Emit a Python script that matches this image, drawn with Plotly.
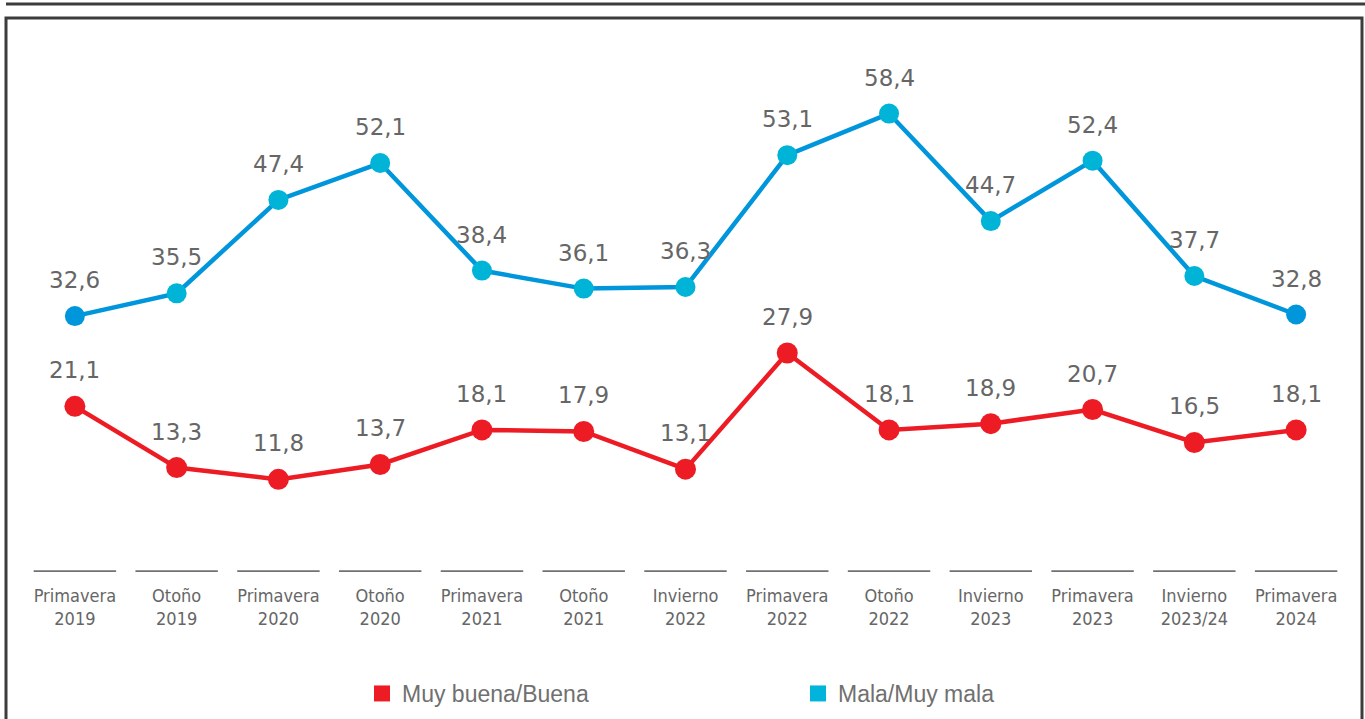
import plotly.graph_objects as go

# ---- data ----
seasons = ["Primavera", "Otoño", "Primavera", "Otoño", "Primavera", "Otoño", "Invierno",
           "Primavera", "Otoño", "Invierno", "Primavera", "Invierno", "Primavera"]
years = ["2019", "2019", "2020", "2020", "2021", "2021", "2022",
         "2022", "2022", "2023", "2023", "2023/24", "2024"]
categories = [f"{s}<br>{y}" for s, y in zip(seasons, years)]
buena = [21.1, 13.3, 11.8, 13.7, 18.1, 17.9, 13.1, 27.9, 18.1, 18.9, 20.7, 16.5, 18.1]
mala = [32.6, 35.5, 47.4, 52.1, 38.4, 36.1, 36.3, 53.1, 58.4, 44.7, 52.4, 37.7, 32.8]
series_names = ["Muy buena/Buena", "Mala/Muy mala"]

RED = "#ED1C24"
BLUE_LINE = "#0096DB"
CYAN = "#00B4D8"
LABEL_GRAY = "#666666"

W, H = 1365, 719
ML, MR, MT, MB = 24, 18, 30, 147


def px2x(p):
    return (p - ML) / (W - ML - MR)


def py2y(p):
    return (H - MB - p) / (H - MT - MB)


xs = list(range(len(categories)))
fig = go.Figure()

blue_marker_colors = [BLUE_LINE if i in (0, len(mala) - 1) else CYAN for i in xs]

fig.add_trace(go.Scatter(
    x=xs, y=mala, mode="lines+markers", showlegend=False,
    line=dict(color=BLUE_LINE, width=4.5),
    marker=dict(size=20, color=blue_marker_colors),
))
fig.add_trace(go.Scatter(
    x=xs, y=buena, mode="lines+markers", showlegend=False,
    line=dict(color=RED, width=4.5),
    marker=dict(size=21, color=RED),
))

# legend entries (square swatches)
fig.add_trace(go.Scatter(x=[None], y=[None], mode="markers", name=series_names[0],
                         marker=dict(symbol="square", size=21, color=RED)))
fig.add_trace(go.Scatter(x=[None], y=[None], mode="markers", name=series_names[1],
                         marker=dict(symbol="square", size=21, color="#00B4DC")))

annotations = []
for series in (mala, buena):
    for i, v in enumerate(series):
        annotations.append(dict(
            x=i, y=v, xref="x", yref="y", text=f"{v:.1f}".replace(".", ","),
            showarrow=False, yshift=36,
            font=dict(family="DejaVu Sans", size=23, color=LABEL_GRAY),
        ))

shapes = []
# category baseline segments
for i in xs:
    shapes.append(dict(type="line", xref="x", yref="y", x0=i - 0.405, x1=i + 0.405,
                       y0=0, y1=0, line=dict(color="#727272", width=3.5)))
# frame
shapes.append(dict(type="line", xref="paper", yref="paper",
                   x0=px2x(6), x1=px2x(1368), y0=py2y(4), y1=py2y(4),
                   line=dict(color="#3c3c3c", width=3)))
shapes.append(dict(type="rect", xref="paper", yref="paper",
                   x0=px2x(6), x1=px2x(1362), y0=py2y(18), y1=py2y(740),
                   line=dict(color="#3c3c3c", width=3)))

fig.update_layout(
    width=W, height=H,
    margin=dict(l=ML, r=MR, t=MT, b=MB),
    paper_bgcolor="white", plot_bgcolor="white",
    annotations=annotations, shapes=shapes,
    hovermode=False,
    xaxis=dict(
        tickmode="array", tickvals=xs, ticktext=categories,
        range=[-0.5, len(categories) - 0.5],
        showgrid=False, zeroline=False, showline=False, ticks="",
        tickfont=dict(family="DejaVu Sans Condensed, DejaVu Sans",
                      size=18, color=LABEL_GRAY),
        ticklabelstandoff=11,
    ),
    yaxis=dict(range=[0, 542 / 7.85], visible=False, showgrid=False, zeroline=False),
    showlegend=True,
    legend=dict(
        orientation="h", xref="container", yref="container",
        x=362 / W, xanchor="left", y=1 - 672 / H, yanchor="top",
        entrywidth=391, entrywidthmode="pixels",
        font=dict(family="Liberation Sans, Arial", size=23, color="#707070"),
        bgcolor="rgba(0,0,0,0)",
    ),
)

fig.write_html("out.html", config={"displayModeBar": False},
               post_script="document.body.style.margin='0';")
